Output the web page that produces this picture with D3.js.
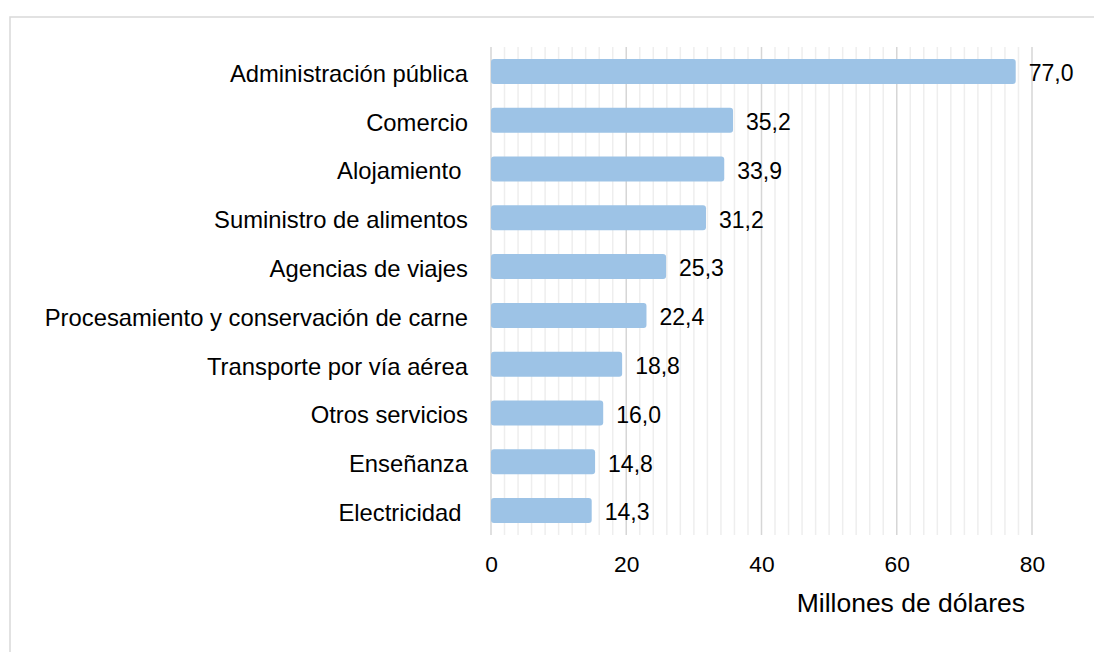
<!DOCTYPE html>
<html>
<head>
<meta charset="utf-8">
<script src="https://cdn.jsdelivr.net/npm/d3@7"></script>
<style>
  html, body { margin: 0; padding: 0; background: #fff; }
  svg { display: block; }
  text { font-family: "Liberation Sans", Arial, sans-serif; fill: #000; white-space: pre; }
</style>
</head>
<body>
<script>
const categories = [
  "Administración pública",
  "Comercio",
  "Alojamiento ",
  "Suministro de alimentos",
  "Agencias de viajes",
  "Procesamiento y conservación de carne",
  "Transporte por vía aérea",
  "Otros servicios",
  "Enseñanza",
  "Electricidad "
];
const values = [77.0, 35.2, 33.9, 31.2, 25.3, 22.4, 18.8, 16.0, 14.8, 14.3];
const majorTicks = [0, 20, 40, 60, 80];
const axisTitle = "Millones de dólares";

const W = 1094, H = 652;
const svg = d3.select("body").append("svg").attr("width", W).attr("height", H);

// outer frame (extends beyond the view on right and bottom)
svg.append("rect")
  .attr("x", 10).attr("y", 17).attr("width", W).attr("height", H)
  .attr("fill", "none").attr("stroke", "#d9d9d9").attr("stroke-width", 1.5);

const x = d3.scaleLinear().domain([0, 80]).range([491, 1032]);
const y = d3.scaleBand().domain(categories).range([47, 535])
  .paddingInner(0.488).paddingOuter(0.244);

// minor gridlines every 2
const minor = d3.range(0, 81, 2).filter(v => v % 20 !== 0);
svg.append("g").selectAll("line").data(minor).join("line")
  .attr("x1", d => x(d)).attr("x2", d => x(d))
  .attr("y1", 47).attr("y2", 535)
  .attr("stroke", "#eeeeee").attr("stroke-width", 1.5);

// major gridlines
svg.append("g").selectAll("line").data(majorTicks).join("line")
  .attr("x1", d => x(d)).attr("x2", d => x(d))
  .attr("y1", 47).attr("y2", 535)
  .attr("stroke", "#d6d6d6").attr("stroke-width", 1.5);

// bars
svg.append("g").selectAll("rect").data(values).join("rect")
  .attr("x", x(0))
  .attr("y", (d, i) => y(categories[i]))
  .attr("width", d => x(d) - x(0) + 4)
  .attr("height", y.bandwidth())
  .attr("rx", 3).attr("ry", 3)
  .attr("fill", "#9dc3e6");

// value labels
svg.append("g").selectAll("text").data(values).join("text")
  .attr("x", d => x(d) + 17)
  .attr("y", (d, i) => y(categories[i]) + y.bandwidth() / 2)
  .attr("dy", "0.43em")
  .attr("font-size", "23px")
  .text(d => d3.format(".1f")(d).replace(".", ","));

// category labels
svg.append("g").selectAll("text").data(categories).join("text")
  .attr("x", 468)
  .attr("y", d => y(d) + y.bandwidth() / 2)
  .attr("dy", "0.44em")
  .attr("text-anchor", "end")
  .attr("font-size", "23.8px")
  .text(d => d);

// x axis tick labels
const axis = d3.axisBottom(x).tickValues(majorTicks).tickSize(0).tickPadding(0)
  .tickFormat(d3.format("d"));
const gAxis = svg.append("g").attr("transform", "translate(0,556)").call(axis);
gAxis.select(".domain").remove();
gAxis.selectAll("text")
  .attr("font-size", "22.8px")
  .attr("dy", "0.71em")
  .style("font-family", "'Liberation Sans', Arial, sans-serif")
  .attr("fill", "#000");

// axis title
svg.append("text")
  .attr("x", 1025).attr("y", 612)
  .attr("text-anchor", "end")
  .attr("font-size", "26.5px")
  .text(axisTitle);
</script>
</body>
</html>
